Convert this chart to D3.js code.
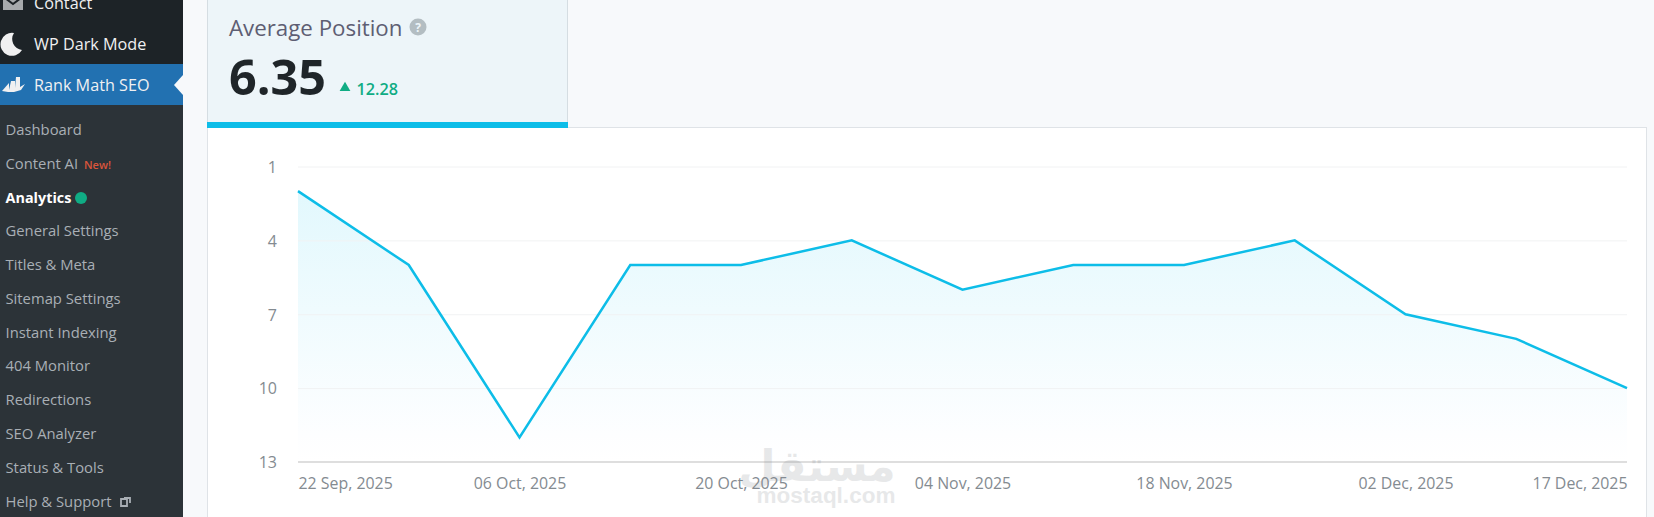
<!DOCTYPE html>
<meta charset="utf-8">
<style>
html, body { margin: 0; padding: 0; background: #f7f9fb; overflow: hidden; }
svg { display: block; }
text { font-family: 'Open Sans', sans-serif; }
.menu text { font-size: 14.8px; fill: #a9afb5; }
.axis text { font-size: 15.9px; fill: #848b91; }
.axis .domain { display: none; }
.y .tick line { stroke: #f1f2f3; }
.x .tick line { display: none; }
</style>
<body>
<svg width="1654" height="517"></svg>
<script src="https://d3js.org/d3.v7.min.js"></script>
<script>

// chart values
var dates = ["22 Sep, 2025", "29 Sep, 2025", "06 Oct, 2025", "13 Oct, 2025", "20 Oct, 2025", "27 Oct, 2025", "04 Nov, 2025",
             "11 Nov, 2025", "18 Nov, 2025", "25 Nov, 2025", "02 Dec, 2025", "09 Dec, 2025", "17 Dec, 2025"];
var positions = [2, 5, 12, 5, 5, 4, 6, 5, 5, 4, 7, 8, 10];
var yTicks = [1, 4, 7, 10, 13];
var xTicks = ["22 Sep, 2025", "06 Oct, 2025", "20 Oct, 2025", "04 Nov, 2025", "18 Nov, 2025", "02 Dec, 2025", "17 Dec, 2025"];

// sidebar
var menuItems = ["Dashboard", "Content AI", "Analytics", "General Settings", "Titles & Meta", "Sitemap Settings",
                 "Instant Indexing", "404 Monitor", "Redirections", "SEO Analyzer", "Status & Tools", "Help & Support"];

var svg = d3.select("svg");

//side menu backgrounds
svg.append("rect").attr("width", 183).attr("height", 517).attr("fill", "#2c3338");
svg.append("rect").attr("width", 183).attr("height", 64).attr("fill", "#1d2327");
svg.append("rect").attr("y", 64).attr("width", 183).attr("height", 41).attr("fill", "#2271b1");
svg.append("path").attr("d", "M183,75 L174,85 L183,95 Z").attr("fill", "#f7f9fb");

var top_ = svg.append("g").attr("fill", "#f0f0f1").style("font-size", "16.2px");
top_.append("text").attr("x", 34).attr("y", 9).text("Contact");
top_.append("text").attr("x", 34).attr("y", 49.5).text("WP Dark Mode");
top_.append("text").attr("x", 34).attr("y", 90.5).text("Rank Math SEO");

//icons, contact / moon / rank math
svg.append("path").attr("d", "M3,-4 H23 V10 H3 Z").attr("fill", "#a7aaad");
svg.append("path").attr("d", "M5,-2 L13,4 L21,-2").attr("fill", "none").attr("stroke", "#1d2327").attr("stroke-width", 2);
svg.append("path").attr("d", "M14,33 A11.5,11.5 0 1,0 22,50 A11,11 0 0,1 14,33 Z").attr("fill", "#f0f0f1");
svg.append("path").attr("d", "M2,91 L9,83 L9,90 L11,81 L15,81 L15,88 L16,77 L20,77 L20,87 L25,84 L21,90 L14,92 L8,92 Z").attr("fill", "#f0f0f1");

var menu = svg.append("g").attr("class", "menu");
var menuY = d3.scalePoint().domain(menuItems).range([129.5, 501]);
menu.selectAll("text").data(menuItems).enter().append("text")
    .attr("x", 5.5)
    .attr("y", function(d) { return menuY(d) + 5.5; })
    .style("fill", function(d) { return d == "Analytics" ? "#fff" : null; })
    .style("font-weight", function(d) { return d == "Analytics" ? 700 : 400; })
    .style("font-size", function(d) { return d == "Analytics" ? "14.4px" : null; })
    .text(function(d) { return d; });

svg.append("text").attr("x", 84).attr("y", 169).attr("fill", "#d9553b").style("font-size", "11px").style("font-weight", 600).text("New!");
svg.append("circle").attr("cx", 81).attr("cy", 198).attr("r", 6).attr("fill", "#10ac84");
svg.append("path").attr("d", "M121,499 H127 V506 H121 Z M124,498 H130 V503").attr("fill", "none").attr("stroke", "#a9afb5").attr("stroke-width", 1.8);

//white panel
svg.append("rect").attr("x", 207.5).attr("y", 127.5).attr("width", 1439).attr("height", 400)
    .attr("fill", "#fff").attr("stroke", "#dfe3e7");

//stat card
svg.append("rect").attr("x", 207.5).attr("y", -2).attr("width", 360).attr("height", 125)
    .attr("fill", "#edf5f9").attr("stroke", "#d5dde2");
svg.append("rect").attr("x", 207).attr("y", 122).attr("width", 361).attr("height", 6).attr("fill", "#0dbde8");

svg.append("text").attr("x", 229).attr("y", 36).attr("fill", "#5e5e73").style("font-size", "22.3px").text("Average Position");
svg.append("circle").attr("cx", 418).attr("cy", 27).attr("r", 8.5).attr("fill", "#b3bdc2");
svg.append("text").attr("x", 418).attr("y", 31.5).attr("text-anchor", "middle").attr("fill", "#edf5f9")
    .style("font-size", "12px").style("font-weight", 700).text("?");
svg.append("text").attr("x", 229).attr("y", 95).attr("fill", "#1f2529").style("font-size", "48.5px").style("font-weight", 700).text("6.35");
svg.append("path").attr("d", d3.symbol().type(d3.symbolTriangle).size(50)).attr("transform", "translate(345,88)").attr("fill", "#10ac84");
svg.append("text").attr("x", 356.5).attr("y", 95).attr("fill", "#10ac84").style("font-size", "16.2px").style("font-weight", 600).text("12.28");

//chart
var x = d3.scalePoint().domain(dates).range([298, 1627]);
var y = d3.scaleLinear().domain([1, 13]).range([166.5, 462]);

var defs = svg.append("defs");
var grad = defs.append("linearGradient").attr("id", "areaFill").attr("x1", 0).attr("x2", 0).attr("y1", 0).attr("y2", 1);
grad.append("stop").attr("offset", "0%").attr("stop-color", "#e2f8fd");
grad.append("stop").attr("offset", "90%").attr("stop-color", "#fdfeff");
grad.append("stop").attr("offset", "100%").attr("stop-color", "#ffffff");

var points = dates.map(function(d, i) { return { date: d, value: positions[i] }; });

var yAxis = svg.append("g").attr("class", "axis y")
    .attr("transform", "translate(298,0)")
    .call(d3.axisLeft(y).tickValues(yTicks).tickSize(-1329).tickPadding(21));
yAxis.selectAll(".tick text").style("font-size", "16px").attr("dy", "0.36em");

svg.append("path").datum(points)
    .attr("fill", "url(#areaFill)")
    .attr("d", d3.area()
      .x(function(d) { return x(d.date); })
      .y0(y(13))
      .y1(function(d) { return y(d.value); }));

//gridlines show through the fill in the reference
yAxis.raise();

svg.append("line").attr("x1", 298).attr("x2", 1627).attr("y1", y(13)).attr("y2", y(13))
    .attr("stroke", "#dedede").attr("stroke-width", 2);

svg.append("path").datum(points)
    .attr("fill", "none")
    .attr("stroke", "#0dbde8")
    .attr("stroke-width", 2.5)
    .attr("d", d3.line()
      .x(function(d) { return x(d.date); })
      .y(function(d) { return y(d.value); }));

var xAxis = svg.append("g").attr("class", "axis x")
    .attr("transform", "translate(0," + y(13) + ")")
    .call(d3.axisBottom(x).tickValues(xTicks).tickSize(0).tickPadding(16));
xAxis.selectAll(".tick text")
    .attr("text-anchor", function(d, i) { return i == 0 ? "start" : i == xTicks.length - 1 ? "end" : "middle"; });

//watermark
var mark = svg.append("g").attr("fill", "#8a8f93").attr("opacity", 0.2).attr("text-anchor", "middle");
mark.append("text").attr("x", 817).attr("y", 481).style("font-family", "'DejaVu Sans', sans-serif")
    .style("font-weight", 700).style("font-size", "43px").text("مستقل");
mark.append("text").attr("x", 826).attr("y", 503).style("font-family", "'Liberation Sans', sans-serif")
    .style("font-weight", 700).style("font-size", "22.5px").text("mostaql.com");

</script>
</body>
